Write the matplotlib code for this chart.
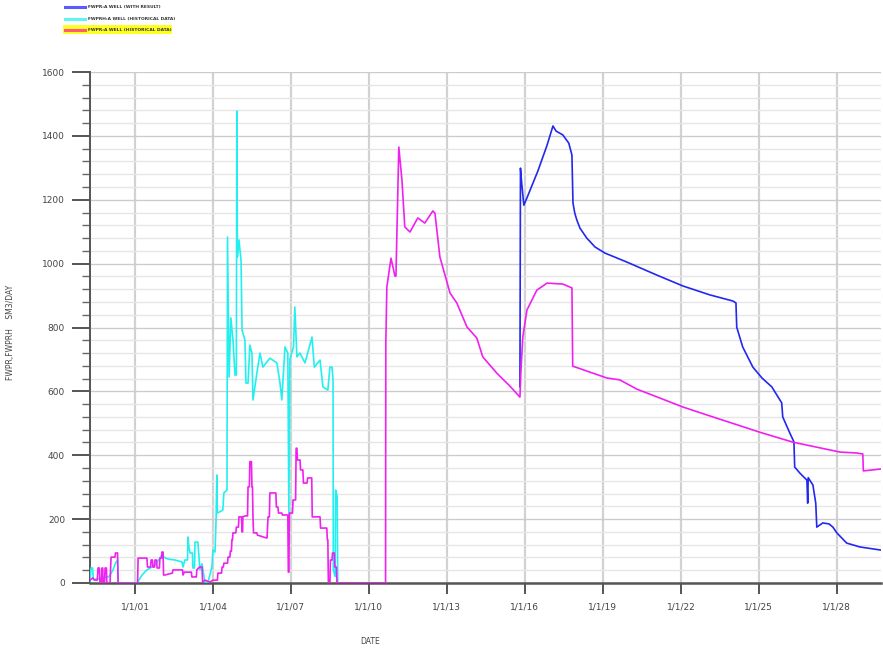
import matplotlib
matplotlib.use('Agg')
import matplotlib.pyplot as plt
from matplotlib.lines import Line2D
from matplotlib.patches import Rectangle
import numpy as np

# decimal years / SM3 per day
mag_t = [1999.27, 1999.38, 1999.46, 1999.55, 1999.58, 1999.63, 1999.65, 1999.71, 1999.73, 1999.76,
         1999.77, 1999.83, 1999.85, 1999.90, 1999.92, 2000.04, 2000.08, 2000.23, 2000.25, 2000.33,
         2000.35, 2001.10, 2001.12, 2001.46, 2001.48, 2001.60, 2001.62, 2001.67, 2001.69, 2001.75,
         2001.77, 2001.83, 2001.85, 2001.94, 2001.96, 2002.02, 2002.04, 2002.08, 2002.10, 2002.15,
         2002.44, 2002.46, 2002.83, 2002.85, 2002.90, 2003.17, 2003.19, 2003.36, 2003.38, 2003.48,
         2003.58, 2003.60, 2003.69, 2003.88, 2004.00, 2004.17, 2004.19, 2004.33, 2004.35, 2004.40,
         2004.42, 2004.56, 2004.58, 2004.65, 2004.67, 2004.71, 2004.73, 2004.75, 2004.77, 2004.88,
         2004.90, 2004.98, 2005.00, 2005.10, 2005.12, 2005.14, 2005.15, 2005.23, 2005.33, 2005.35,
         2005.40, 2005.42, 2005.48, 2005.50, 2005.52, 2005.54, 2005.56, 2005.69, 2005.71, 2006.06,
         2006.08, 2006.12, 2006.17, 2006.19, 2006.42, 2006.44, 2006.50, 2006.52, 2006.65, 2006.67,
         2006.88, 2006.90, 2006.92, 2006.94, 2007.06, 2007.08, 2007.18, 2007.20, 2007.23, 2007.25,
         2007.35, 2007.37, 2007.46, 2007.48, 2007.62, 2007.64, 2007.80, 2007.82, 2008.12, 2008.14,
         2008.38, 2008.40, 2008.42, 2008.44, 2008.50, 2008.52, 2008.58, 2008.60, 2008.67, 2008.69,
         2008.75, 2008.77, 2010.64, 2010.65, 2010.69, 2010.85, 2011.00, 2011.04, 2011.08, 2011.15,
         2011.27, 2011.38, 2011.58, 2011.88, 2012.15, 2012.46, 2012.54, 2012.73, 2013.12, 2013.38,
         2013.77, 2014.15, 2014.38, 2014.92, 2015.42, 2015.81, 2015.85, 2015.92, 2016.08, 2016.46,
         2016.85, 2017.46, 2017.81, 2017.84, 2019.15, 2019.65, 2020.31, 2022.08, 2023.12, 2025.12,
         2026.31, 2028.12, 2028.77, 2029.00, 2029.02, 2029.70]
mag_v = [9, 16, 9, 9, 47, 47, 3, 3, 47, 47,
         3, 3, 47, 47, 0, 0, 81, 81, 94, 94,
         0, 0, 78, 78, 50, 50, 72, 72, 50, 50,
         72, 72, 47, 47, 78, 78, 97, 97, 25, 25,
         31, 41, 41, 25, 34, 34, 19, 19, 41, 50,
         50, 3, 9, 3, 9, 9, 31, 31, 50, 50,
         62, 62, 81, 81, 100, 100, 135, 135, 157, 157,
         175, 175, 207, 207, 160, 160, 207, 210, 210, 301,
         301, 380, 380, 301, 301, 207, 157, 157, 150, 141,
         141, 207, 207, 282, 282, 238, 238, 219, 219, 213,
         213, 34, 34, 219, 219, 260, 260, 422, 422, 385,
         385, 354, 354, 313, 313, 329, 329, 207, 207, 172,
         172, 135, 135, 3, 3, 72, 72, 94, 94, 50,
         50, 0, 0, 751, 927, 1017, 961, 961, 1105, 1365,
         1262, 1115, 1099, 1143, 1127, 1165, 1158, 1021, 908, 877,
         802, 767, 708, 657, 617, 582, 667, 770, 855, 917,
         939, 936, 924, 679, 642, 636, 607, 551, 523, 470,
         441, 410, 407, 404, 351, 357]

cyan_t = [1999.27, 1999.31, 1999.37, 1999.40, 1999.50, 2000.00, 2000.15, 2000.25, 2000.33, 2000.36,
          2001.08, 2001.27, 2001.46, 2001.65, 2001.77, 2001.96, 2002.08, 2002.10, 2002.27, 2002.54,
          2002.81, 2002.85, 2002.92, 2003.02, 2003.04, 2003.08, 2003.12, 2003.21, 2003.23, 2003.29,
          2003.31, 2003.42, 2003.50, 2003.58, 2003.69, 2003.81, 2003.96, 2004.00, 2004.08, 2004.12,
          2004.15, 2004.17, 2004.38, 2004.42, 2004.54, 2004.56, 2004.62, 2004.69, 2004.77, 2004.85,
          2004.90, 2004.92, 2004.94, 2005.00, 2005.08, 2005.12, 2005.23, 2005.27, 2005.35, 2005.42,
          2005.50, 2005.54, 2005.69, 2005.81, 2005.92, 2006.19, 2006.46, 2006.58, 2006.65, 2006.77,
          2006.88, 2006.92, 2006.96, 2007.10, 2007.15, 2007.23, 2007.35, 2007.54, 2007.81, 2007.90,
          2008.12, 2008.23, 2008.42, 2008.50, 2008.58, 2008.62, 2008.63, 2008.70, 2008.72, 2008.78,
          2008.80]
cyan_v = [5, 47, 47, 9, 12, 20, 40, 62, 72, 0,
          0, 25, 41, 50, 56, 78, 94, 81, 75, 72,
          66, 50, 72, 72, 144, 110, 94, 94, 47, 47,
          128, 128, 41, 60, 3, 3, 50, 103, 97, 200,
          338, 219, 228, 282, 291, 1083, 645, 830, 761, 651,
          651, 1478, 1021, 1074, 1011, 792, 761, 626, 626, 745,
          720, 573, 657, 720, 676, 704, 689, 626, 573, 739,
          720, 219, 700, 740, 864, 708, 720, 689, 770, 676,
          698, 614, 604, 676, 676, 636, 40, 20, 291, 270,
          0]

blue_t = [2015.81, 2015.83, 2015.88, 2015.96, 2016.10, 2016.50, 2016.85, 2017.08, 2017.20, 2017.46,
          2017.69, 2017.81, 2017.85, 2017.92, 2018.00, 2018.12, 2018.38, 2018.70, 2019.08, 2019.92,
          2021.08, 2022.08, 2023.12, 2024.00, 2024.12, 2024.15, 2024.38, 2024.77, 2025.12, 2025.50,
          2025.88, 2025.92, 2026.19, 2026.35, 2026.38, 2026.58, 2026.85, 2026.88, 2026.90, 2026.96,
          2027.08, 2027.19, 2027.23, 2027.46, 2027.70, 2027.85, 2028.00, 2028.38, 2028.88, 2029.70]
blue_v = [614, 1299, 1250, 1183, 1210, 1290, 1370, 1431, 1415, 1403,
          1377, 1340, 1190, 1158, 1136, 1111, 1080, 1052, 1033, 1005,
          964, 930, 902, 883, 877, 801, 739, 676, 642, 614,
          564, 520, 470, 442, 363, 344, 322, 250, 330, 322,
          307, 250, 175, 188, 185, 175, 157, 125, 113, 103]

tick_years = [2001, 2004, 2007, 2010, 2013, 2016, 2019, 2022, 2025, 2028]
tick_labels = ['1/1/01', '1/1/04', '1/1/07', '1/1/10', '1/1/13',
               '1/1/16', '1/1/19', '1/1/22', '1/1/25', '1/1/28']
legend_labels = ['FWPR:A WELL (WITH RESULT)',
                 'FWPRH:A WELL (HISTORICAL DATA)',
                 'FWPR:A WELL (HISTORICAL DATA)']

fig = plt.figure(figsize=(8.83, 6.48), dpi=100)
ax = fig.add_axes([90 / 883, 65 / 648, 791 / 883, 511 / 648])

ax.plot(blue_t, blue_v, color='#2228f0', lw=1.2, zorder=3)
ax.plot(cyan_t, cyan_v, color='#22f0f0', lw=1.2, zorder=3)
ax.plot(mag_t, mag_v, color='#f020f0', lw=1.2, zorder=4)

ax.set_xlim(1999.27, 2029.70)
ax.set_ylim(0, 1600)

ax.set_xticks(tick_years)
ax.set_xticklabels(tick_labels)
ax.set_yticks(np.arange(0, 1601, 200))
ax.set_yticks(np.arange(0, 1601, 40), minor=True)

ax.tick_params(axis='y', which='major', length=13, width=1.4, color='#555555',
               labelsize=6.5, labelcolor='#444444', pad=5)
ax.tick_params(axis='y', which='minor', length=6, width=1.0, color='#666666')
ax.tick_params(axis='x', which='major', length=8, width=1.4, color='#555555',
               labelsize=6.5, labelcolor='#444444', pad=6)

ax.grid(axis='y', which='minor', color='#e6e6e6', lw=1.0, zorder=0)
ax.grid(axis='y', which='major', color='#cccccc', lw=1.0, zorder=0)
ax.grid(axis='x', which='major', color='#d2d2d2', lw=1.6, zorder=0)
ax.set_axisbelow(True)

for side in ['top', 'right']:
    ax.spines[side].set_visible(False)
ax.spines['left'].set_color('#555555')
ax.spines['left'].set_linewidth(1.4)
ax.spines['bottom'].set_color('#555555')
ax.spines['bottom'].set_linewidth(1.8)

ax.set_xlabel('DATE', fontsize=5.5, color='#444444')
ax.xaxis.set_label_coords((370 - 90) / 791, -54 / 511)
ax.set_ylabel('FWPR,FWPRH    SM3/DAY', fontsize=5.5, color='#444444')
ax.yaxis.set_label_coords(-75 / 791, 0.49)

# legend drawn at the top left of the figure
leg_colors = ['#5a5aff', '#5af5f5', '#ff5a7a']
leg_y = [7, 19, 30]
fig.add_artist(Rectangle((63 / 883, 1 - 34 / 648), 109 / 883, 9 / 648,
                         transform=fig.transFigure, facecolor='#ffff22',
                         edgecolor='none', zorder=1))
for c, yy, lab in zip(leg_colors, leg_y, legend_labels):
    fy = 1 - yy / 648
    fig.add_artist(Line2D([65 / 883, 85 / 883], [fy, fy], transform=fig.transFigure,
                          color=c, lw=2.2, zorder=2))
    fig.text(88 / 883, fy, lab, fontsize=3.2, va='center', ha='left',
             color='#333333', fontweight='bold', zorder=3)

fig.savefig('out.png', dpi=100)
